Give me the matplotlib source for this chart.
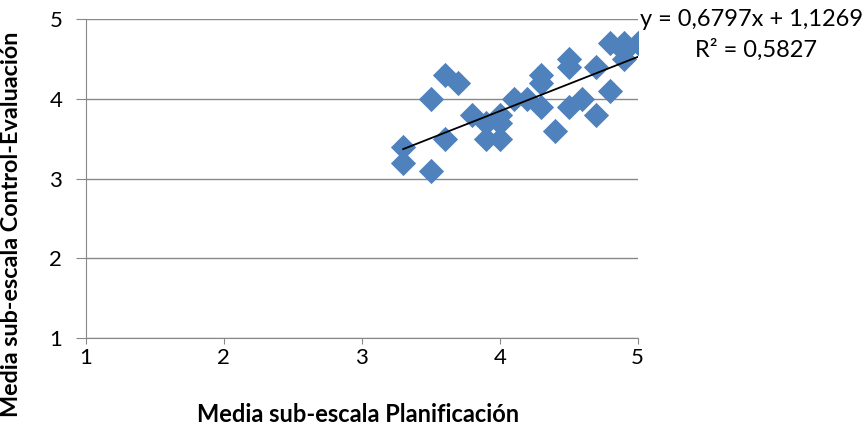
import matplotlib.pyplot as plt
import numpy as np

plt.rcParams['font.family'] = ['Lato', 'DejaVu Sans']

# data
planificacion = [3.3, 3.3, 3.5, 3.5, 3.6, 3.7, 3.6, 3.8, 3.9, 3.9, 4.0, 4.0, 4.0,
                 4.1, 4.2, 4.3, 4.3, 4.3, 4.4, 4.5, 4.5, 4.5, 4.6, 4.7, 4.7,
                 4.8, 4.8, 4.9, 4.9, 4.9, 5.0]
control = [3.4, 3.2, 3.1, 4.0, 4.3, 4.2, 3.5, 3.8, 3.7, 3.5, 3.8, 3.7, 3.5,
           4.0, 4.0, 4.3, 4.2, 3.9, 3.6, 4.5, 4.4, 3.9, 4.0, 4.4, 3.8,
           4.1, 4.7, 4.7, 4.5, 4.6, 4.7]
slope = 0.6797
intercept = 1.1269
r2 = 0.5827
ticks = [1, 2, 3, 4, 5]

fig = plt.figure(figsize=(8.64, 4.34), dpi=100)
ax = fig.add_axes([0.0995, 0.221, 0.6385, 0.735])

ax.scatter(planificacion, control, marker='D', s=165, color='#4F81BD', zorder=3, linewidths=0)

xs = np.array([min(planificacion), max(planificacion)])
ax.plot(xs, slope * xs + intercept, color='black', lw=1.3, zorder=4)

ax.set_xlim(1, 5)
ax.set_ylim(1, 5)
ax.set_xticks(ticks)
ax.set_yticks(ticks)
ax.tick_params(labelsize=16, color='#888888')
ax.tick_params(axis='y', length=7, pad=10)
ax.tick_params(axis='x', length=4, pad=3)
ax.grid(axis='y', color='#888888', lw=1)
ax.set_axisbelow(True)
for s in ['top', 'right']:
    ax.spines[s].set_visible(False)
for s in ['left', 'bottom']:
    ax.spines[s].set_color('#888888')

# axis titles placed where the reference has them
fig.text(0.414, 0.045, 'Media sub-escala Planificación', fontsize=17, fontweight='bold',
         ha='center', va='center')
fig.text(0.013, 0.484, 'Media sub-escala Control-Evaluación', fontsize=16.8, fontweight='bold',
         ha='center', va='center', rotation=90)

fig.text(0.999, 0.955, 'y = 0,6797x + 1,1269', fontsize=17, ha='right', va='center')
fig.text(0.875, 0.885, 'R² = 0,5827', fontsize=17, ha='center', va='center')

fig.savefig('out.png', dpi=100)
